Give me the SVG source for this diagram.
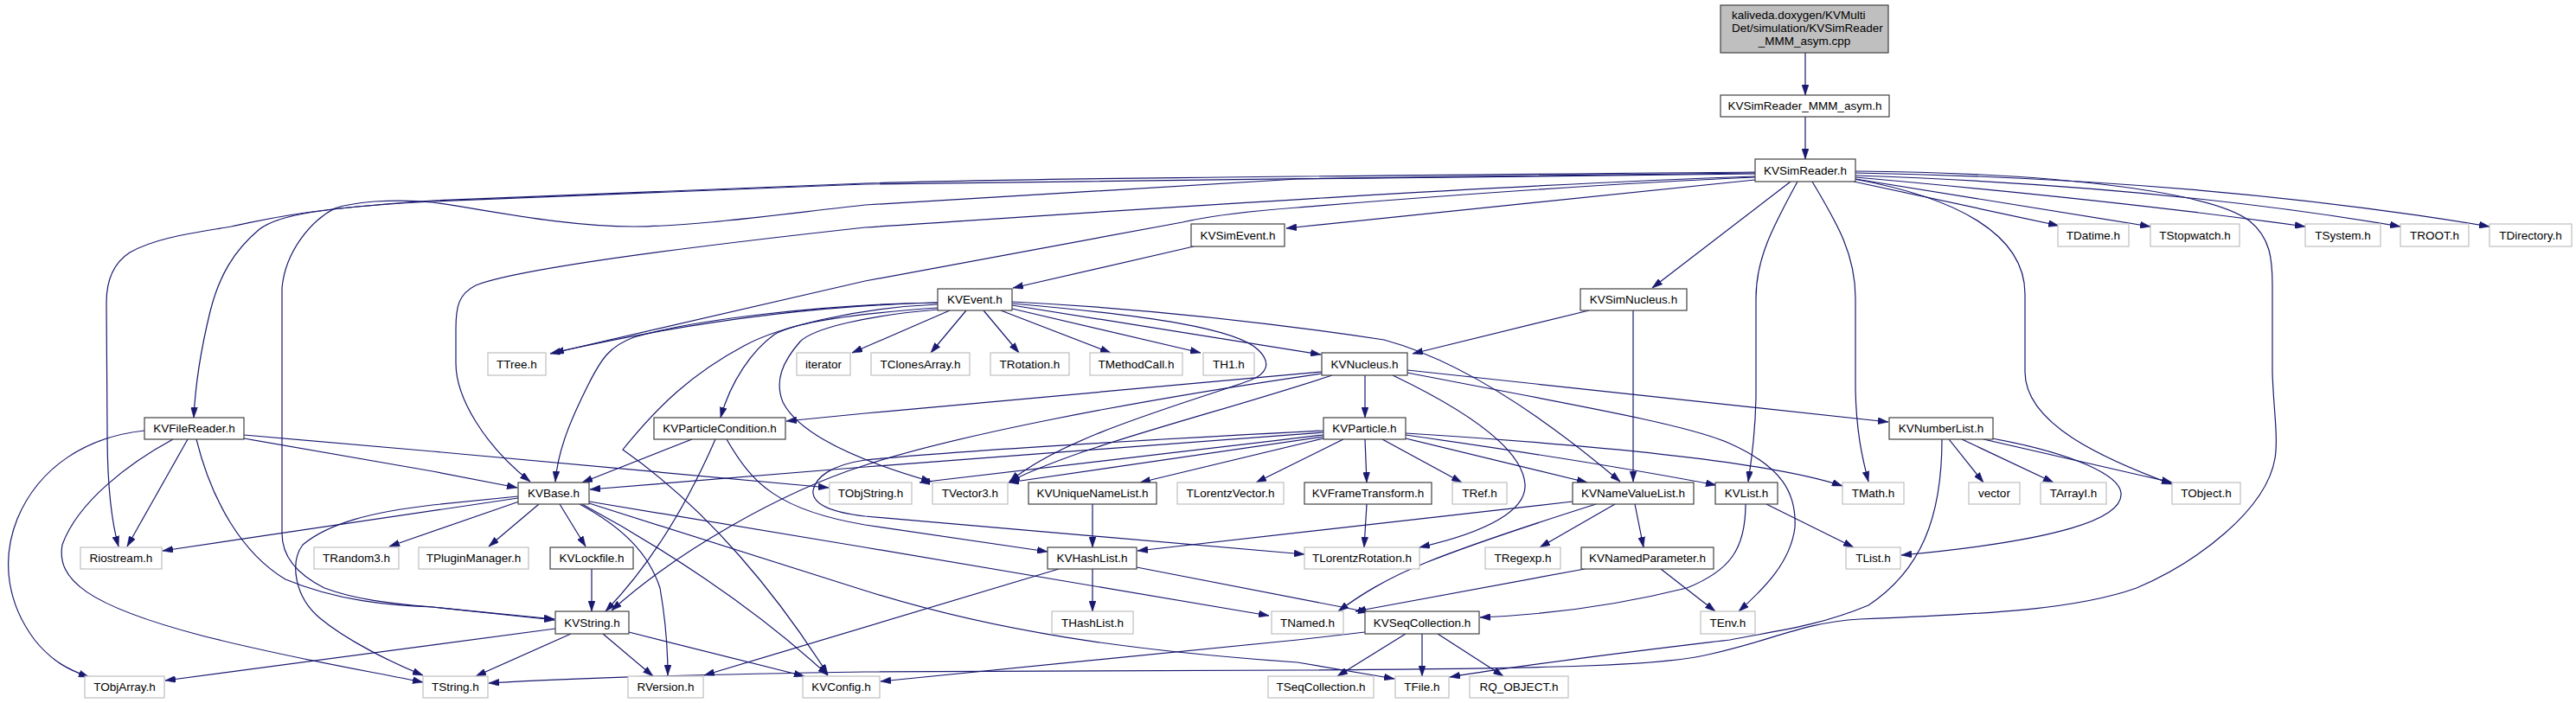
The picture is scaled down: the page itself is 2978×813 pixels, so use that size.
<svg xmlns="http://www.w3.org/2000/svg" width="2978" height="813" viewBox="0 0 2978 813">
<style>
rect{fill:#fff;stroke-width:1.2}
.d rect{stroke:#404040}
.u rect{stroke:#bfbfbf}
.top rect{fill:#bfbfbf;stroke:#404040}
text{font-family:"Liberation Sans",Arial,sans-serif;font-size:13.5px;text-anchor:middle;fill:#000}
#edges path{fill:none;stroke:#191970;stroke-width:1.2;marker-end:url(#a)}
</style>
<defs>
<marker id="a" viewBox="0 0 12 8" refX="12" refY="4" markerWidth="12" markerHeight="8" markerUnits="userSpaceOnUse" orient="auto">
<path d="M0,0 L12,4 L0,8 z" fill="#191970" stroke="#191970" stroke-width="0.5"/>
</marker>
</defs>
<rect x="0" y="0" width="2978" height="813" style="fill:#fff;stroke:none"/>
<g id="edges">
<path d="M2087,61 L2087,110"/>
<path d="M2087,135 L2087,184"/>
<path d="M2143,210 L2380,261"/>
<path d="M2145,207 L2486,262"/>
<path d="M2145,205 Q2450,232 2665,262"/>
<path d="M2145,203 Q2500,215 2775,262"/>
<path d="M2145,200 Q2550,207 2878,262"/>
<path d="M2143,207 C2260,228 2341,270 2341,340 L2341,430 C2341,490 2430,530 2511,560"/>
<path d="M2145,198 C2400,200 2560,225 2600,255 C2625,275 2627,300 2627,330 L2627,430 C2628,470 2634,505 2630,530 C2620,590 2540,650 2470,680 C2400,705 2300,710 2150,716 C2080,720 2040,745 1960,760 C1900,770 1800,773 1500,775 L1000,777 C800,780 650,785 565,790"/>
<path d="M2029,208 L1487,264"/>
<path d="M2070,210 L1910,333"/>
<path d="M2078,210 C2048,265 2030,300 2030,345 L2030,460 C2029,510 2024,535 2021,557"/>
<path d="M2095,210 C2125,260 2145,295 2145,345 L2145,450 C2146,500 2153,530 2160,557"/>
<path d="M2029,204 C1700,215 1200,250 1000,263 C800,285 600,310 550,330 C530,340 527,355 527,380 L527,420 C527,460 560,515 613,557"/>
<path d="M2029,205 C1800,215 1600,232 1500,240 C1420,246 1380,254 1367,257 L1000,325 L636,409"/>
<path d="M2029,199 C1600,203 1200,206 1000,212 L500,232 C440,236 400,240 377,243 C330,248 300,255 267,262 C220,270 180,275 150,292 C130,305 123,325 123,350 L124,500 C124,560 128,600 137,632"/>
<path d="M2029,200 C1600,204 1200,208 1000,213 L500,233 C440,236 400,240 377,243 C340,248 315,254 300,265 C270,290 253,320 243,360 C232,405 226,440 224,483"/>
<path d="M2029,201 C1800,203 1600,205 1500,207 L1000,237 C900,248 800,262 733,262 C650,262 560,242 500,234 C470,231 450,232 433,233 C410,235 395,238 387,241 C360,255 330,290 326,333 L326,617 C326,645 345,665 375,680 C410,693 450,698 500,702 L641,716"/>
<path d="M1380,285 L1171,333"/>
<path d="M1837,359 L1633,409"/>
<path d="M1888,359 L1888,557"/>
<path d="M1084,350 C1000,352 850,360 640,408"/>
<path d="M1084,350 C950,352 800,370 733,390 C705,400 695,415 680,445 C660,485 645,520 642,557"/>
<path d="M1098,359 L985,408"/>
<path d="M1117,359 L1076,408"/>
<path d="M1137,359 L1178,408"/>
<path d="M1157,359 L1284,408"/>
<path d="M1170,357 L1388,408"/>
<path d="M1170,353 L1527,410"/>
<path d="M1170,349 C1350,358 1500,378 1600,393 C1700,420 1800,495 1873,557"/>
<path d="M1170,351 C1330,365 1430,380 1455,405 C1470,420 1465,432 1445,440 C1360,470 1230,505 1167,557"/>
<path d="M1084,356 C1000,362 920,372 895,387 C870,405 845,440 833,483"/>
<path d="M1084,352 C990,356 900,378 860,400 C800,432 760,470 720,520 C820,590 900,690 957,780"/>
<path d="M1084,358 C1000,365 940,380 925,395 C905,418 895,440 905,465 C925,505 1000,535 1077,557"/>
<path d="M1578,434 L1578,483"/>
<path d="M1528,430 L1000,478 L909,487"/>
<path d="M1540,434 C1400,480 1250,515 1167,557"/>
<path d="M1528,432 C1300,465 1100,505 1000,538 C900,570 780,640 707,706"/>
<path d="M1610,434 C1700,477 1760,520 1763,560 C1765,590 1720,615 1641,633"/>
<path d="M1627,428 L2183,488"/>
<path d="M1627,431 C1800,465 1950,490 2000,513 C2060,540 2077,570 2075,610 C2070,650 2040,680 2010,707"/>
<path d="M1530,500 L1000,540 L682,566"/>
<path d="M1530,498 C1300,510 1100,522 1000,532 C960,538 943,552 940,567 C938,585 965,593 1000,597 C1200,615 1400,632 1508,641"/>
<path d="M1530,503 L1063,558"/>
<path d="M1530,505 L1166,558"/>
<path d="M1530,507 L1318,558"/>
<path d="M1553,508 L1452,558"/>
<path d="M1578,508 L1580,558"/>
<path d="M1598,508 L1690,558"/>
<path d="M1625,507 L1835,558"/>
<path d="M1625,503 C1780,525 1900,545 1984,561"/>
<path d="M1625,501 C1850,515 2050,535 2130,562"/>
<path d="M1580,583 L1577,633"/>
<path d="M1263,583 L1263,633"/>
<path d="M1818,580 L1315,637"/>
<path d="M1845,583 C1760,610 1700,630 1650,650 C1600,670 1570,690 1547,707"/>
<path d="M1867,583 L1780,633"/>
<path d="M1890,583 L1900,633"/>
<path d="M1832,658 L1567,707"/>
<path d="M1920,658 L1983,707"/>
<path d="M2042,583 L2143,633"/>
<path d="M2018,583 C2018,635 2000,660 1950,680 C1850,705 1760,712 1711,714"/>
<path d="M2253,508 L2293,558"/>
<path d="M2268,508 L2374,558"/>
<path d="M2293,508 L2511,558"/>
<path d="M2303,507 C2400,525 2450,550 2452,570 C2455,600 2380,625 2198,642"/>
<path d="M2245,508 C2245,600 2220,660 2160,700 C2100,725 2050,730 2000,740 C1900,752 1780,766 1676,783"/>
<path d="M1263,658 L1263,707"/>
<path d="M1314,656 L1582,708"/>
<path d="M1224,658 L814,781"/>
<path d="M800,508 L673,558"/>
<path d="M827,508 C800,570 760,645 700,707"/>
<path d="M840,508 C870,560 900,590 1000,607 L1211,638"/>
<path d="M684,658 L684,707"/>
<path d="M660,733 L550,782"/>
<path d="M697,733 L755,782"/>
<path d="M727,731 L930,782"/>
<path d="M642,727 L191,787"/>
<path d="M1625,733 L1546,782"/>
<path d="M1644,733 L1644,782"/>
<path d="M1662,733 L1738,782"/>
<path d="M1578,731 L1500,740 C1300,760 1100,780 1018,788"/>
<path d="M599,576 L188,637"/>
<path d="M599,574 L500,584 C430,592 380,605 350,630 C335,650 340,690 370,715 C400,740 450,765 489,781"/>
<path d="M600,580 L450,632"/>
<path d="M623,583 L565,632"/>
<path d="M647,583 L677,632"/>
<path d="M670,583 C720,610 750,640 763,680 C770,720 772,750 772,781"/>
<path d="M673,583 C760,630 870,700 957,781"/>
<path d="M681,580 L1000,633 L1467,712"/>
<path d="M681,582 L1000,683 C1150,730 1300,752 1500,766 L1612,785"/>
<path d="M167,498 C100,505 45,540 20,600 C0,650 10,700 40,740 C60,765 80,775 103,783"/>
<path d="M200,508 C150,535 90,580 72,630 C65,670 100,700 233,735 C330,760 420,775 489,789"/>
<path d="M217,508 L147,632"/>
<path d="M227,508 C245,580 280,640 330,670 C390,695 450,700 500,702 L641,717"/>
<path d="M282,503 L500,522 L958,564"/>
<path d="M282,507 L500,545 L598,564"/>
</g>
<g id="n_cpp" class="top"><rect x="1989" y="6" width="194" height="55"/>
<text x="2002" y="22" style="text-anchor:start">kaliveda.doxygen/KVMulti</text>
<text x="2002" y="37" style="text-anchor:start">Det/simulation/KVSimReader</text>
<text x="2086" y="52">_MMM_asym.cpp</text></g>
<g id="n_mmm" class="d"><rect x="1989" y="110" width="195" height="25"/><text x="2086.5" y="127">KVSimReader_MMM_asym.h</text></g>
<g id="n_simreader" class="d"><rect x="2029" y="184" width="116" height="26"/><text x="2087" y="201.5">KVSimReader.h</text></g>
<g id="n_simevent" class="d"><rect x="1377" y="259" width="108" height="26"/><text x="1431" y="276.5">KVSimEvent.h</text></g>
<g id="n_tdatime" class="u"><rect x="2379" y="259" width="82" height="26"/><text x="2420" y="276.5">TDatime.h</text></g>
<g id="n_tstopwatch" class="u"><rect x="2486" y="259" width="103" height="26"/><text x="2537.5" y="276.5">TStopwatch.h</text></g>
<g id="n_tsystem" class="u"><rect x="2665" y="259" width="87" height="26"/><text x="2708.5" y="276.5">TSystem.h</text></g>
<g id="n_troot" class="u"><rect x="2775" y="259" width="79" height="26"/><text x="2814.5" y="276.5">TROOT.h</text></g>
<g id="n_tdirectory" class="u"><rect x="2878" y="259" width="95" height="26"/><text x="2925.5" y="276.5">TDirectory.h</text></g>
<g id="n_kvevent" class="d"><rect x="1084" y="334" width="86" height="25"/><text x="1127" y="351">KVEvent.h</text></g>
<g id="n_simnucleus" class="d"><rect x="1827" y="334" width="123" height="25"/><text x="1888.5" y="351">KVSimNucleus.h</text></g>
<g id="n_ttree" class="u"><rect x="564" y="408" width="67" height="26"/><text x="597.5" y="425.5">TTree.h</text></g>
<g id="n_iterator" class="u"><rect x="921" y="408" width="62" height="26"/><text x="952" y="425.5">iterator</text></g>
<g id="n_tclonesarray" class="u"><rect x="1007" y="408" width="114" height="26"/><text x="1064" y="425.5">TClonesArray.h</text></g>
<g id="n_trotation" class="u"><rect x="1145" y="408" width="91" height="26"/><text x="1190.5" y="425.5">TRotation.h</text></g>
<g id="n_tmethodcall" class="u"><rect x="1260" y="408" width="107" height="26"/><text x="1313.5" y="425.5">TMethodCall.h</text></g>
<g id="n_th1" class="u"><rect x="1391" y="408" width="59" height="26"/><text x="1420.5" y="425.5">TH1.h</text></g>
<g id="n_kvnucleus" class="d"><rect x="1528" y="408" width="99" height="26"/><text x="1577.5" y="425.5">KVNucleus.h</text></g>
<g id="n_kvfilereader" class="d"><rect x="167" y="483" width="115" height="25"/><text x="224.5" y="500">KVFileReader.h</text></g>
<g id="n_kvparticlecondition" class="d"><rect x="756" y="483" width="152" height="25"/><text x="832" y="500">KVParticleCondition.h</text></g>
<g id="n_kvparticle" class="d"><rect x="1530" y="483" width="95" height="25"/><text x="1577.5" y="500">KVParticle.h</text></g>
<g id="n_kvnumberlist" class="d"><rect x="2184" y="483" width="120" height="25"/><text x="2244" y="500">KVNumberList.h</text></g>
<g id="n_kvbase" class="d"><rect x="599" y="558" width="82" height="25"/><text x="640" y="575">KVBase.h</text></g>
<g id="n_tobjstring" class="u"><rect x="959" y="558" width="95" height="25"/><text x="1006.5" y="575">TObjString.h</text></g>
<g id="n_tvector3" class="u"><rect x="1078" y="558" width="87" height="25"/><text x="1121.5" y="575">TVector3.h</text></g>
<g id="n_kvuniquenamelist" class="d"><rect x="1189" y="558" width="148" height="25"/><text x="1263" y="575">KVUniqueNameList.h</text></g>
<g id="n_tlorentzvector" class="u"><rect x="1361" y="558" width="123" height="25"/><text x="1422.5" y="575">TLorentzVector.h</text></g>
<g id="n_kvframetransform" class="d"><rect x="1508" y="558" width="147" height="25"/><text x="1581.5" y="575">KVFrameTransform.h</text></g>
<g id="n_tref" class="u"><rect x="1679" y="558" width="63" height="25"/><text x="1710.5" y="575">TRef.h</text></g>
<g id="n_kvnamevaluelist" class="d"><rect x="1818" y="558" width="140" height="25"/><text x="1888" y="575">KVNameValueList.h</text></g>
<g id="n_kvlist" class="d"><rect x="1983" y="558" width="72" height="25"/><text x="2019" y="575">KVList.h</text></g>
<g id="n_tmath" class="u"><rect x="2130" y="558" width="71" height="25"/><text x="2165.5" y="575">TMath.h</text></g>
<g id="n_vector" class="u"><rect x="2276" y="558" width="59" height="25"/><text x="2305.5" y="575">vector</text></g>
<g id="n_tarrayi" class="u"><rect x="2359" y="558" width="76" height="25"/><text x="2397" y="575">TArrayI.h</text></g>
<g id="n_tobject" class="u"><rect x="2511" y="558" width="79" height="25"/><text x="2550.5" y="575">TObject.h</text></g>
<g id="n_riostream" class="u"><rect x="93" y="633" width="94" height="25"/><text x="140" y="650">Riostream.h</text></g>
<g id="n_trandom3" class="u"><rect x="363" y="633" width="98" height="25"/><text x="412" y="650">TRandom3.h</text></g>
<g id="n_tpluginmanager" class="u"><rect x="484" y="633" width="127" height="25"/><text x="547.5" y="650">TPluginManager.h</text></g>
<g id="n_kvlockfile" class="d"><rect x="636" y="633" width="96" height="25"/><text x="684" y="650">KVLockfile.h</text></g>
<g id="n_kvhashlist" class="d"><rect x="1211" y="633" width="103" height="25"/><text x="1262.5" y="650">KVHashList.h</text></g>
<g id="n_tlorentzrotation" class="u"><rect x="1508" y="633" width="133" height="25"/><text x="1574.5" y="650">TLorentzRotation.h</text></g>
<g id="n_tregexp" class="u"><rect x="1717" y="633" width="87" height="25"/><text x="1760.5" y="650">TRegexp.h</text></g>
<g id="n_kvnamedparameter" class="d"><rect x="1828" y="633" width="153" height="25"/><text x="1904.5" y="650">KVNamedParameter.h</text></g>
<g id="n_tlist" class="u"><rect x="2134" y="633" width="63" height="25"/><text x="2165.5" y="650">TList.h</text></g>
<g id="n_kvstring" class="d"><rect x="642" y="707" width="85" height="26"/><text x="684.5" y="724.5">KVString.h</text></g>
<g id="n_thashlist" class="u"><rect x="1216" y="707" width="94" height="26"/><text x="1263" y="724.5">THashList.h</text></g>
<g id="n_tnamed" class="u"><rect x="1470" y="707" width="83" height="26"/><text x="1511.5" y="724.5">TNamed.h</text></g>
<g id="n_kvseqcollection" class="d"><rect x="1578" y="707" width="132" height="26"/><text x="1644" y="724.5">KVSeqCollection.h</text></g>
<g id="n_tenv" class="u"><rect x="1966" y="707" width="63" height="26"/><text x="1997.5" y="724.5">TEnv.h</text></g>
<g id="n_tobjarray" class="u"><rect x="98" y="782" width="92" height="25"/><text x="144" y="799">TObjArray.h</text></g>
<g id="n_tstring" class="u"><rect x="489" y="782" width="75" height="25"/><text x="526.5" y="799">TString.h</text></g>
<g id="n_rversion" class="u"><rect x="726" y="782" width="87" height="25"/><text x="769.5" y="799">RVersion.h</text></g>
<g id="n_kvconfig" class="u"><rect x="928" y="782" width="89" height="25"/><text x="972.5" y="799">KVConfig.h</text></g>
<g id="n_tseqcollection" class="u"><rect x="1466" y="782" width="122" height="25"/><text x="1527" y="799">TSeqCollection.h</text></g>
<g id="n_tfile" class="u"><rect x="1613" y="782" width="62" height="25"/><text x="1644" y="799">TFile.h</text></g>
<g id="n_rqobject" class="u"><rect x="1699" y="782" width="114" height="25"/><text x="1756" y="799">RQ_OBJECT.h</text></g>
</svg>
